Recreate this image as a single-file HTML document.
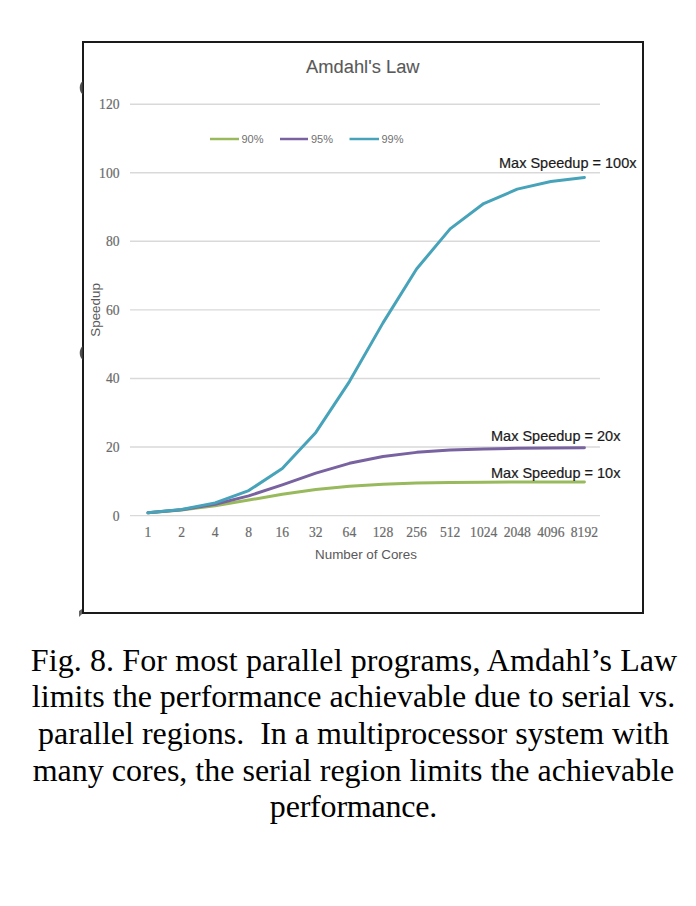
<!DOCTYPE html>
<html><head><meta charset="utf-8"><style>
html,body{margin:0;padding:0;background:#fff;width:696px;height:906px;overflow:hidden;position:relative}
.cap{position:absolute;left:0;width:707px;top:641.8px;text-align:center;font-family:"Liberation Serif",serif;font-size:32px;line-height:36.6px;color:#000;white-space:nowrap}
</style></head><body>
<svg width="696" height="640" viewBox="0 0 696 640" style="position:absolute;left:0;top:0">
<rect x="83" y="42" width="560" height="571" fill="#fff" stroke="#1a1a1a" stroke-width="2"/>
<path d="M82.5,81 C78.8,84.5 78.8,91 82.5,94.5Z" fill="#505050"/>
<path d="M82.5,346 C78.8,349.5 78.8,356.3 82.5,359.8Z" fill="#505050"/>
<polygon points="82,609 79,611 79,617 82,614" fill="#666"/>
<line x1="130.0" y1="515.60" x2="600.0" y2="515.60" stroke="#D9D9D9" stroke-width="1.4"/><line x1="130.0" y1="447.03" x2="600.0" y2="447.03" stroke="#D9D9D9" stroke-width="1.4"/><line x1="130.0" y1="378.46" x2="600.0" y2="378.46" stroke="#D9D9D9" stroke-width="1.4"/><line x1="130.0" y1="309.89" x2="600.0" y2="309.89" stroke="#D9D9D9" stroke-width="1.4"/><line x1="130.0" y1="241.32" x2="600.0" y2="241.32" stroke="#D9D9D9" stroke-width="1.4"/><line x1="130.0" y1="172.75" x2="600.0" y2="172.75" stroke="#D9D9D9" stroke-width="1.4"/><line x1="130.0" y1="104.18" x2="600.0" y2="104.18" stroke="#D9D9D9" stroke-width="1.4"/>
<g font-family="Liberation Serif" font-size="13.6" fill="#6a6a6a" stroke="#6a6a6a" stroke-width="0.2"><text x="119.5" y="520.50" text-anchor="end">0</text><text x="119.5" y="451.93" text-anchor="end">20</text><text x="119.5" y="383.36" text-anchor="end">40</text><text x="119.5" y="314.79" text-anchor="end">60</text><text x="119.5" y="246.22" text-anchor="end">80</text><text x="119.5" y="177.65" text-anchor="end">100</text><text x="119.5" y="109.08" text-anchor="end">120</text><text x="147.99" y="537.2" text-anchor="middle">1</text><text x="181.56" y="537.2" text-anchor="middle">2</text><text x="215.13" y="537.2" text-anchor="middle">4</text><text x="248.70" y="537.2" text-anchor="middle">8</text><text x="282.27" y="537.2" text-anchor="middle">16</text><text x="315.84" y="537.2" text-anchor="middle">32</text><text x="349.41" y="537.2" text-anchor="middle">64</text><text x="382.99" y="537.2" text-anchor="middle">128</text><text x="416.56" y="537.2" text-anchor="middle">256</text><text x="450.13" y="537.2" text-anchor="middle">512</text><text x="483.70" y="537.2" text-anchor="middle">1024</text><text x="517.27" y="537.2" text-anchor="middle">2048</text><text x="550.84" y="537.2" text-anchor="middle">4096</text><text x="584.41" y="537.2" text-anchor="middle">8192</text></g>
<path d="M147.99,512.77 L181.56,509.97 L215.13,505.65 L248.70,500.07 L282.27,494.26 L315.84,489.44 L349.41,486.14 L382.99,484.17 L416.56,483.08 L450.13,482.51 L483.70,482.21 L517.27,482.07 L550.84,481.99 L584.41,481.95" fill="none" stroke="#98B95C" stroke-width="3" stroke-linecap="round" stroke-linejoin="round"/><path d="M147.99,512.77 L181.56,509.67 L215.13,504.27 L248.70,495.88 L282.27,484.85 L315.84,473.18 L349.41,463.33 L382.99,456.49 L416.56,452.37 L450.13,450.08 L483.70,448.88 L517.27,448.26 L550.84,447.95 L584.41,447.79" fill="none" stroke="#7862A0" stroke-width="3" stroke-linecap="round" stroke-linejoin="round"/><path d="M147.99,512.77 L181.56,509.41 L215.13,502.89 L248.70,490.57 L282.27,468.50 L315.84,432.45 L349.41,381.58 L382.99,322.87 L416.56,268.96 L450.13,228.90 L483.70,203.57 L517.27,189.16 L550.84,181.44 L584.41,177.44" fill="none" stroke="#47A3B9" stroke-width="3" stroke-linecap="round" stroke-linejoin="round"/>
<text transform="translate(362.8,72.8) scale(0.955,1)" text-anchor="middle" font-family="Liberation Sans" font-size="19.2" fill="#595959" stroke="#595959" stroke-width="0.1">Amdahl's Law</text>
<g stroke-width="2.5" stroke-linecap="butt">
<line x1="210" y1="139" x2="239" y2="139" stroke="#98B95C"/>
<line x1="280" y1="139" x2="308" y2="139" stroke="#7862A0"/>
<line x1="349.5" y1="139" x2="379" y2="139" stroke="#47A3B9"/>
</g>
<g font-family="Liberation Sans" font-size="11" fill="#707070">
<text x="241.5" y="143">90%</text><text x="311" y="143">95%</text><text x="381.5" y="143">99%</text>
</g>
<g font-family="Liberation Sans" font-size="14.5" fill="#1a1a1a" stroke="#1a1a1a" stroke-width="0.2">
<text x="499" y="167.8">Max Speedup = 100x</text>
<text x="491" y="441.2">Max Speedup = 20x</text>
<text x="491" y="477.8">Max Speedup = 10x</text>
</g>
<text x="366" y="559.4" text-anchor="middle" font-family="Liberation Sans" font-size="13.4" fill="#595959">Number of Cores</text>
<text transform="translate(100,309.9) rotate(-90)" text-anchor="middle" font-family="Liberation Sans" font-size="13.4" fill="#595959">Speedup</text>
</svg>
<div class="cap"><span style="letter-spacing:0.1px;position:relative;left:0.6px">Fig. 8. For most parallel programs, Amdahl’s Law</span><br>limits the performance achievable due to serial vs.<br>parallel regions.&nbsp; In a multiprocessor system with<br>many cores, the serial region limits the achievable<br><span style="letter-spacing:-0.2px">performance.</span></div>
</body></html>
